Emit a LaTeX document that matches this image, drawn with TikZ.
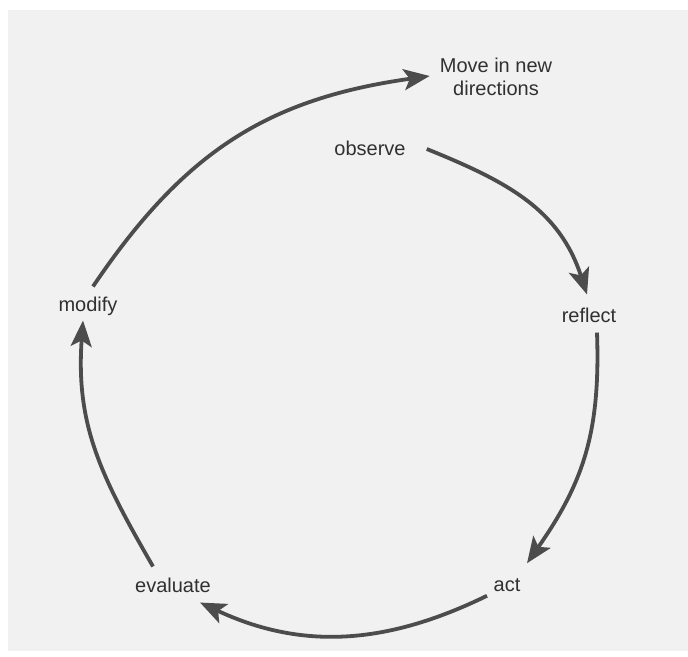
\documentclass[tikz,border=0pt]{standalone}
\usepackage{fontspec}
\setmainfont{Liberation Sans}
\usetikzlibrary{arrows.meta,calc}
\definecolor{pagebg}{HTML}{F1F1F1}
\definecolor{inkline}{HTML}{4C4C4C}
\definecolor{inktext}{HTML}{303030}
\tikzset{
  lbl/.style={inner sep=0pt, text=inktext, font=\fontsize{20}{23}\selectfont, align=center},
  cyc/.style={draw=inkline, line width=3.8pt,
    -{Stealth[length=26pt,width=21pt,inset=6pt]}}
}
\begin{document}
\begin{tikzpicture}[x=1pt,y=1pt]
\useasboundingbox (0,0) rectangle (688,-656);
\fill[white] (0,0) rectangle (688,-656);
\fill[pagebg] (8,-10) rectangle (688,-651);

\node[lbl] (move) at (496,-77) {Move in new\\directions};
\node[lbl] (observe) at (370,-148) {observe};
\node[lbl] (reflect) at (589,-315) {reflect};
\node[lbl] (act) at (507,-585) {act};
\node[lbl] (evaluate) at (173,-585) {evaluate};
\node[lbl] (modify) at (88,-306) {modify};

\draw[cyc] ($(modify.north)+(5,10)$) to[out=56,in=188,looseness=1.05] ($(move.west)+(-10,1)$);
\draw[cyc] ($(observe.east)+(21,-1)$) to[out=-22,in=108,looseness=1.05] ($(reflect.north)+(-2,13)$);
\draw[cyc] ($(reflect.south)+(8,-10)$) to[out=-88,in=55,looseness=1.05] ($(act.north)+(20,15)$);
\draw[cyc] ($(act.south)+(-20,-4)$) to[out=206,in=-25] ($(evaluate.south)+(27,-10)$);
\draw[cyc] ($(evaluate.north)+(-20,11)$) to[out=120,in=-94,looseness=1.05] ($(modify.south)+(-5,-5)$);
\end{tikzpicture}
\end{document}
